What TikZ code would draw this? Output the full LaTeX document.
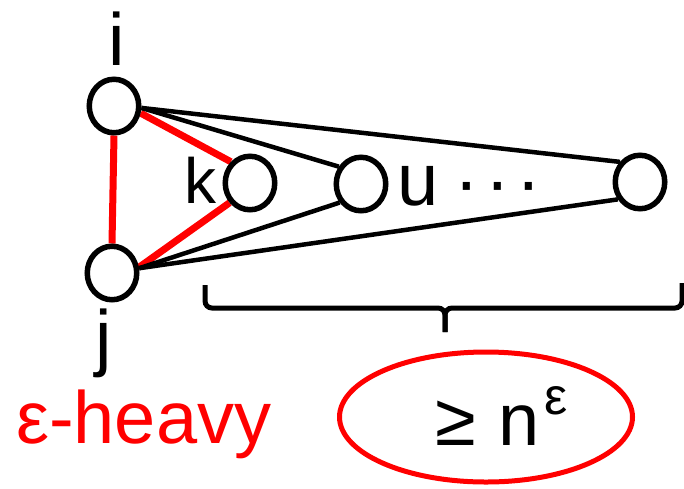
\documentclass[tikz,border=0pt]{standalone}
\usepackage{fontspec}
\setmainfont{Liberation Sans}
\usetikzlibrary{shapes.geometric,backgrounds}
\tikzset{
  vtx/.style={ellipse, draw, line width=5.5pt, fill=white, inner sep=0pt,
              minimum width=49.5pt, minimum height=53.5pt},
  blk/.style={line width=4.5pt, draw=black},
  redge/.style={line width=7pt, draw=red},
  lbl/.style={inner sep=0pt, anchor=base, font=\fontsize{74}{80}\selectfont},
  bracepart/.style={line width=5pt, rounded corners=7pt},
}
\begin{document}
\begin{tikzpicture}[x=1pt,y=-1pt]
\useasboundingbox (0,0) rectangle (684,488);
% vertices
\node[vtx] (i) at (114,106) {};
\node[vtx] (j) at (112,273) {};
\node[vtx] (k) at (250,183) {};
\node[vtx] (u) at (361,184) {};
\node[vtx] (f) at (640,182) {};
% edges
\begin{pgfonlayer}{background}
\draw[redge] (i.south) -- (j.north);
\draw[redge] (i.-15) -- (k.132);
\draw[redge] (j.12) -- (k.224);
\draw[blk] (i.-4) -- (u.142);
\draw[blk] (i.-4) -- (f.135);
\draw[blk] (j.10) -- (u.221);
\draw[blk] (j.10) -- (f.218);
\end{pgfonlayer}
% labels
\node[lbl] (li) at (117,65) {i};
\node[lbl] (lj) at (104,362) {j};
\node[lbl, font=\fontsize{64}{70}\selectfont] (lk) at (200,203) {k};
\node[lbl] (lu) at (418,205) {u};
\node[lbl] (dots) at (498,206) {·\kern6.5pt·\kern6.5pt·};
% brace
\coordinate (bl) at (205,285);
\coordinate (br) at (682,283);
\coordinate (bm) at (445,308);
\coordinate (bt) at (445,332);
\draw[bracepart] (bl) -- (205,308) -- (bm) -- (bt);
\draw[bracepart] (br) -- (682,308) -- (bm) -- (bt);
% count ellipse
\node[ellipse, draw=red, line width=5pt, inner sep=0pt,
      minimum width=293pt, minimum height=130pt] (cnt) at (486,417) {};
\node[lbl, anchor=base west] (ge) at (435,445) {≥\kern23pt n\kern5pt\raisebox{31pt}{\fontsize{52}{52}\selectfont ε}};
\node[lbl, anchor=base west, text=red] (heavy) at (16,443) {ε-heavy};
\end{tikzpicture}
\end{document}
